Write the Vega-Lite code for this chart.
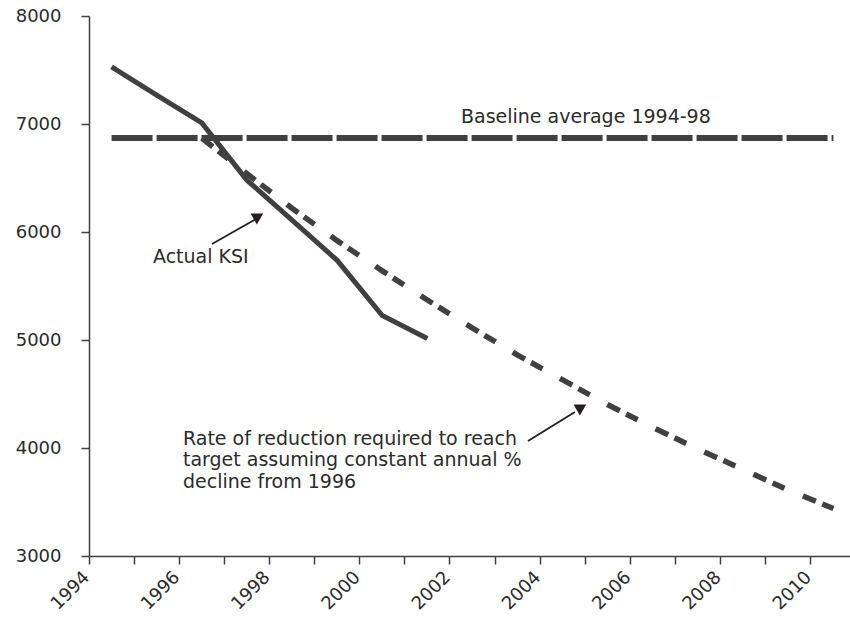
{
  "$schema": "https://vega.github.io/schema/vega-lite/v6.json",
  "width": 761,
  "height": 540,
  "autosize": {"type": "none"},
  "padding": {"left": 89, "top": 16, "right": 0, "bottom": 62},
  "background": "white",
  "config": {
    "view": {"stroke": null},
    "font": "DejaVu Sans",
    "axis": {"grid": false}
  },
  "datasets": {
    "actual": [
      {"year": 1994, "value": 7528},
      {"year": 1995, "value": 7268},
      {"year": 1996, "value": 7010},
      {"year": 1997, "value": 6480},
      {"year": 1998, "value": 6110},
      {"year": 1999, "value": 5738},
      {"year": 2000, "value": 5227},
      {"year": 2001, "value": 5013}
    ],
    "baseline": [
      {"year": 1994, "value": 6870}, {"year": 1995, "value": 6870}, {"year": 1996, "value": 6870},
      {"year": 1997, "value": 6870}, {"year": 1998, "value": 6870}, {"year": 1999, "value": 6870},
      {"year": 2000, "value": 6870}, {"year": 2001, "value": 6870}, {"year": 2002, "value": 6870},
      {"year": 2003, "value": 6870}, {"year": 2004, "value": 6870}, {"year": 2005, "value": 6870},
      {"year": 2006, "value": 6870}, {"year": 2007, "value": 6870}, {"year": 2008, "value": 6870},
      {"year": 2009, "value": 6870}, {"year": 2010, "value": 6870}
    ],
    "target": [
      {"year": 1996, "value": 6870},
      {"year": 1997, "value": 6540},
      {"year": 1998, "value": 6220},
      {"year": 1999, "value": 5920},
      {"year": 2000, "value": 5640},
      {"year": 2001, "value": 5370},
      {"year": 2002, "value": 5110},
      {"year": 2003, "value": 4860},
      {"year": 2004, "value": 4630},
      {"year": 2005, "value": 4400},
      {"year": 2006, "value": 4190},
      {"year": 2007, "value": 3990},
      {"year": 2008, "value": 3800},
      {"year": 2009, "value": 3610},
      {"year": 2010, "value": 3440}
    ],
    "labels": [
      {"year": 2002.245, "value": 7009, "label": "Baseline average 1994-98"},
      {"year": 1995.418, "value": 5713, "label": "Actual KSI"},
      {"year": 1996.083, "value": 4028, "label": "Rate of reduction required to reach\ntarget assuming constant annual %\ndecline from 1996"}
    ],
    "arrows": [
      {"year": 1996.726, "value": 5889, "year2": 1997.701, "value2": 6120},
      {"year": 2003.73, "value": 4065, "year2": 2004.77, "value2": 4333}
    ],
    "heads": [
      {"year": 1997.72, "value": 6120},
      {"year": 2004.88, "value": 4352}
    ]
  },
  "encoding": {
    "y": {
      "field": "value",
      "type": "quantitative",
      "scale": {"domain": [3000, 8000], "nice": false, "zero": false},
      "axis": {
        "title": null,
        "values": [3000, 4000, 5000, 6000, 7000, 8000],
        "format": "d",
        "tickSize": 8,
        "labelPadding": 20,
        "labelFontSize": 18,
        "labelColor": "#2b2b2b",
        "labelFont": "DejaVu Sans",
        "domainColor": "#404040",
        "tickColor": "#404040",
        "domainWidth": 1.5,
        "tickWidth": 1.5
      }
    }
  },
  "resolve": {"scale": {"x": "independent"}},
  "layer": [
    {
      "encoding": {
        "x": {
          "field": "year",
          "type": "ordinal",
          "bandPosition": 0.5,
          "scale": {
            "type": "band",
            "domain": [1994, 1995, 1996, 1997, 1998, 1999, 2000, 2001, 2002, 2003, 2004, 2005, 2006, 2007, 2008, 2009, 2010],
            "range": [0, 767],
            "paddingInner": 0,
            "paddingOuter": 0
          },
          "axis": {
            "title": null,
            "bandPosition": 0,
            "labelExpr": "datum.value % 2 === 0 ? datum.label : ''",
            "labelAngle": -45,
            "labelOffset": -31,
            "labelFontSize": 18,
            "labelFont": "DejaVu Sans",
            "labelColor": "#2b2b2b",
            "labelOverlap": false,
            "labelPadding": 4,
            "tickSize": 8,
            "domainColor": "#404040",
            "tickColor": "#404040",
            "domainWidth": 1.5,
            "tickWidth": 1.5
          }
        }
      },
      "layer": [
        {
          "data": {"name": "baseline"},
          "mark": {"type": "line", "color": "#404040", "strokeWidth": 6, "strokeDash": [41, 4], "strokeCap": "butt"}
        },
        {
          "data": {"name": "target"},
          "mark": {"type": "line", "color": "#404040", "strokeWidth": 5.5, "strokeDash": [14, 7, 13, 20], "strokeCap": "butt"}
        },
        {
          "data": {"name": "actual"},
          "mark": {"type": "line", "color": "#404040", "strokeWidth": 5}
        }
      ]
    },
    {
      "encoding": {
        "x": {
          "field": "year",
          "type": "quantitative",
          "scale": {"domain": [1994, 2011], "range": [0, 767], "nice": false, "zero": false},
          "axis": null
        }
      },
      "layer": [
        {
          "data": {"name": "arrows"},
          "mark": {"type": "rule", "color": "#231f20", "strokeWidth": 1.8},
          "encoding": {
            "x2": {"field": "year2"},
            "y2": {"field": "value2"}
          }
        },
        {
          "data": {"name": "heads"},
          "mark": {"type": "point", "shape": "triangle-down", "filled": true, "color": "#231f20", "size": 160, "opacity": 1}
        },
        {
          "data": {"name": "labels"},
          "mark": {"type": "text", "align": "left", "baseline": "alphabetic", "fontSize": 19, "font": "DejaVu Sans", "color": "#2b2b2b", "lineBreak": "\n", "lineHeight": 21.5},
          "encoding": {
            "text": {"field": "label"}
          }
        }
      ]
    }
  ]
}
